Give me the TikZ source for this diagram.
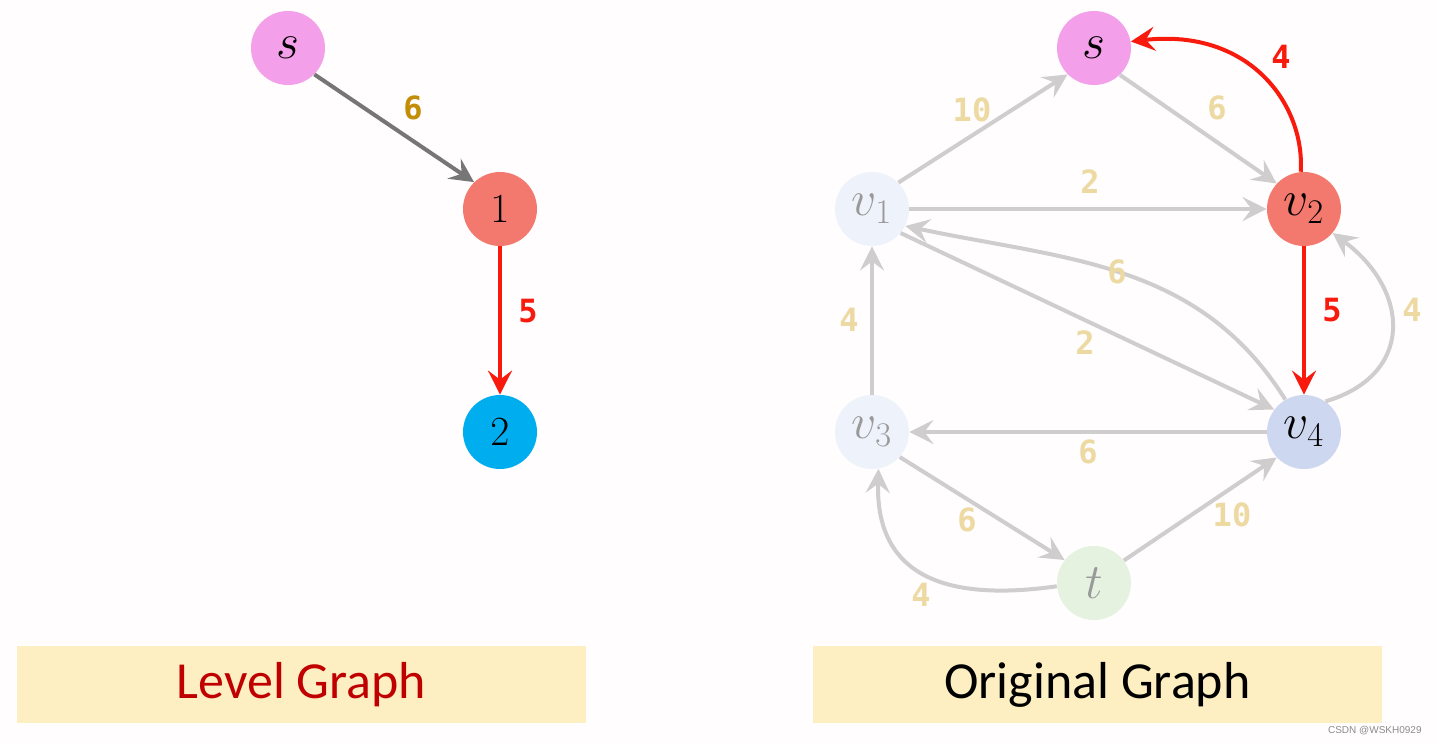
\documentclass[tikz,border=0pt]{standalone}
\usepackage{fontspec}
\usetikzlibrary{arrows.meta}
\newfontfamily\labfont{DejaVu Sans Mono}
\newfontfamily\capfont{Carlito}
\newfontfamily\wmfont{Liberation Sans}
\definecolor{pinkS}{HTML}{F49FE9}
\definecolor{salmon}{HTML}{F3786D}
\definecolor{cyanN}{HTML}{00AEEF}
\definecolor{paleA}{HTML}{EEF3FB}
\definecolor{paleB}{HTML}{CDD7EF}
\definecolor{paleG}{HTML}{E5F2E0}
\definecolor{edgeG}{HTML}{CFCDCD}
\definecolor{edgeD}{HTML}{767676}
\definecolor{redE}{HTML}{F81A0C}
\definecolor{goldL}{HTML}{EDD9A2}
\definecolor{goldD}{HTML}{C48D08}
\definecolor{capbg}{HTML}{FDEFC2}
\definecolor{capred}{HTML}{C00000}
\definecolor{bgc}{HTML}{FFFDFD}
\tikzset{
  vtx/.style={circle, minimum size=37pt, inner sep=0pt, font=\fontsize{24}{24}\selectfont},
  numvtx/.style={vtx, font=\fontsize{20}{20}\selectfont},
  gedge/.style={draw=edgeG, line width=2pt, -{Stealth[length=12pt,width=12pt,inset=4.5pt]}},
  dedge/.style={draw=edgeD, line width=2pt, -{Stealth[length=12pt,width=12pt,inset=4.5pt]}},
  redge/.style={draw=redE, line width=2pt, -{Stealth[length=12pt,width=12pt,inset=4.5pt]}},
  wl/.style={font=\labfont\bfseries\fontsize{16}{16}\selectfont, text=goldL, inner sep=0pt},
  wld/.style={wl, text=goldD},
  wlr/.style={wl, text=redE},
  capbox/.style={fill=capbg, minimum width=284.5pt, minimum height=38.5pt, inner sep=0pt, font=\capfont\fontsize{26}{26}\selectfont}
}
\begin{document}
\begin{tikzpicture}[x=0.5pt,y=-0.5pt]
\useasboundingbox (0,0) rectangle (1437,745);
\fill[bgc] (0,0) rectangle (1437,745);
% Left graph
\node[vtx, fill=pinkS] (Ls) at (288,48) {$s$};
\node[numvtx, fill=salmon] (L1) at (500,209) {$1$};
\node[numvtx, fill=cyanN] (L2) at (500,432) {$2$};
\draw[dedge] (Ls.-45) -- (L1.134);
\draw[redge] (L1.south) -- (L2.north);
\node[wld] (l6) at (413,108) {6};
\node[wlr] (l5) at (528,311) {5};
% Right graph
\node[vtx, fill=pinkS] (s) at (1094,48) {$s$};
\node[vtx, fill=paleA, text=black!40] (v1) at (872,209) {$v_1$};
\node[vtx, fill=salmon] (v2) at (1304,209) {$v_2$};
\node[vtx, fill=paleA, text=black!40] (v3) at (872,432) {$v_3$};
\node[vtx, fill=paleB] (v4) at (1304,432) {$v_4$};
\node[vtx, fill=paleG, text=black!40] (t) at (1094,583) {$t$};
\draw[gedge] (v1.45) -- (s.-135);
\draw[gedge] (s.-46) -- (v2.137);
\draw[gedge] (v1.east) -- (v2.west);
\draw[gedge] (v4.120) to[out=122, in=-12] (v1.-27);
\draw[gedge] (v1.-40) -- (v4.143);
\draw[gedge] (v3.north) -- (v1.south);
\draw[gedge] (v4.55) .. controls (1415,375) and (1410,290) .. (v2.-40);
\draw[gedge] (v4.west) -- (v3.east);
\draw[gedge] (v3.-42) -- (t.142);
\draw[gedge] (t.37) -- (v4.-137);
\draw[gedge] (t.185) .. controls (960,600) and (875,585) .. (v3.-80);
\draw[redge] (v2.95) .. controls (1305,105) and (1250,28) .. (s.10);
\draw[redge] (v2.south) -- (v4.north);
\node[wl] (r10a) at (972,110) {10};
\node[wl] (r6a) at (1217,108) {6};
\node[wlr] (r4r) at (1281,57) {4};
\node[wl] (r2a) at (1090,182) {2};
\node[wl] (r6b) at (1117,272) {6};
\node[wl] (r2b) at (1085,343) {2};
\node[wl] (r4a) at (849,320) {4};
\node[wlr] (r5r) at (1332,310) {5};
\node[wl] (r4b) at (1412,310) {4};
\node[wl] (r6c) at (1088,452) {6};
\node[wl] (r6d) at (967,520) {6};
\node[wl] (r10b) at (1232,515) {10};
\node[wl] (r4c) at (921,595) {4};
% Captions
\node[capbox, text=capred] (capL) at (301.5,684.5) {Level Graph};
\node[capbox, text=black] (capR) at (1097.5,684.5) {Original Graph};
\node[font=\wmfont\fontsize{5}{5}\selectfont, text=black!45, inner sep=0pt, anchor=east] (wm) at (1422,731) {CSDN @WSKH0929};
\end{tikzpicture}
\end{document}
